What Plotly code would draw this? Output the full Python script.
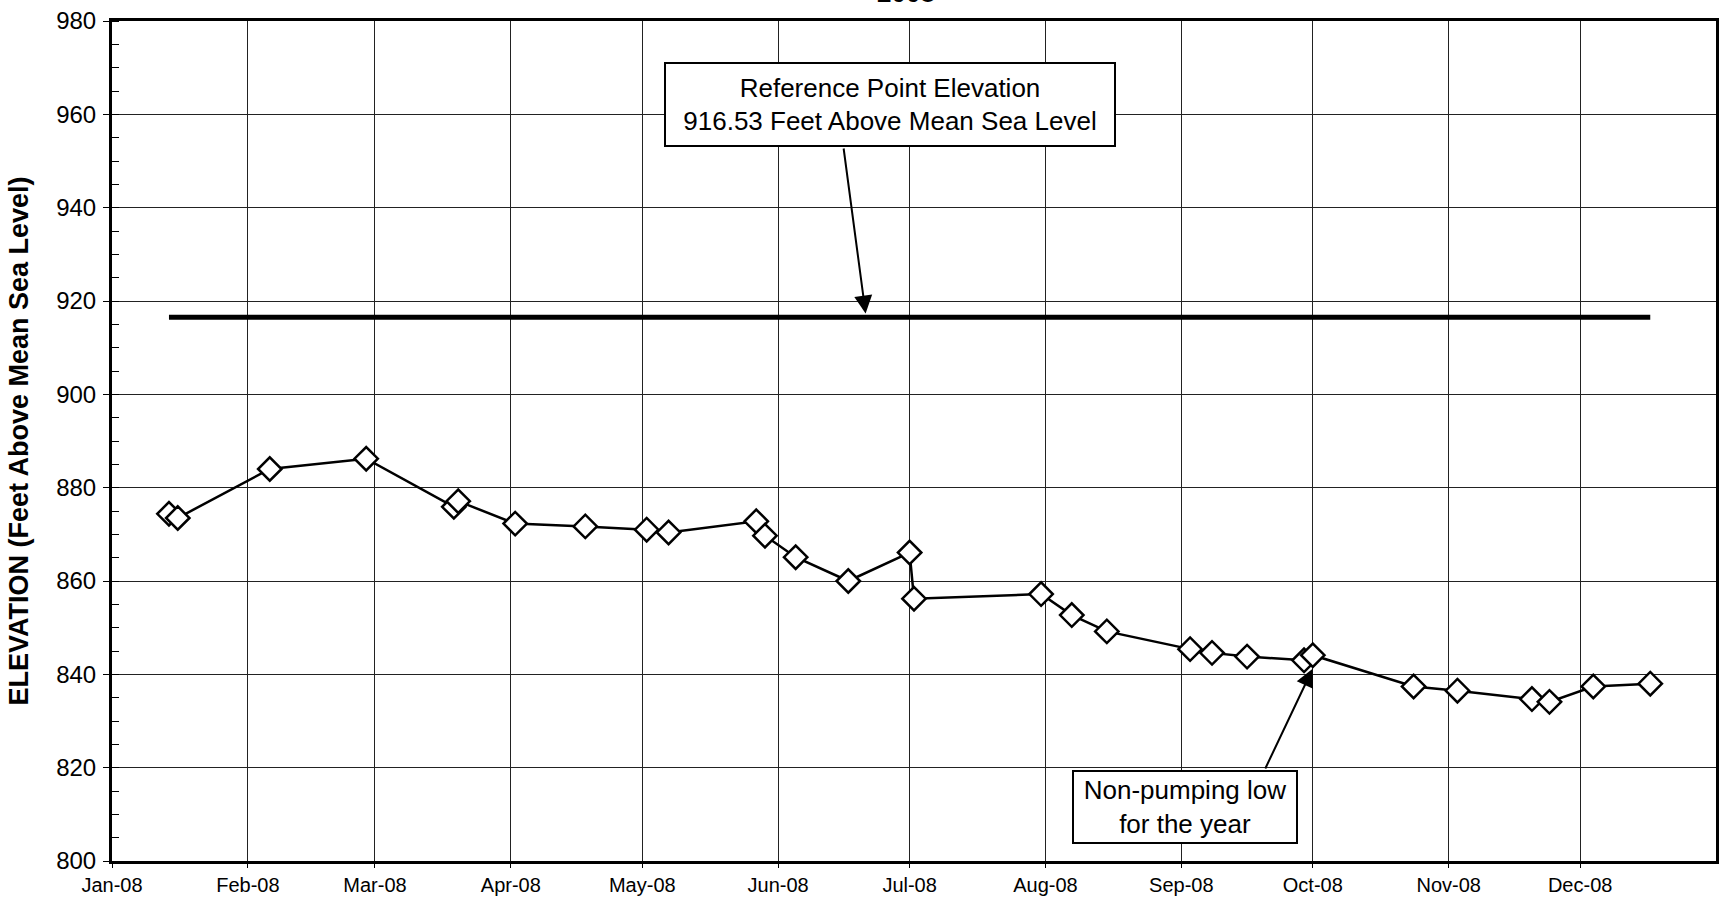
import plotly.graph_objects as go
import pandas as pd

# ---- data ----
dates = ['2008-01-14', '2008-01-16', '2008-02-06', '2008-02-28', '2008-03-19', '2008-03-20',
         '2008-04-02', '2008-04-18', '2008-05-02', '2008-05-07', '2008-05-27', '2008-05-29',
         '2008-06-05', '2008-06-17', '2008-07-01', '2008-07-02', '2008-07-31', '2008-08-07',
         '2008-08-15', '2008-09-03', '2008-09-08', '2008-09-16', '2008-09-29', '2008-10-01',
         '2008-10-24', '2008-11-03', '2008-11-20', '2008-11-24', '2008-12-04', '2008-12-17']
elevation = [874.4, 873.5, 884.0, 886.2, 875.9, 877.1,
             872.3, 871.7, 871.0, 870.4, 872.8, 869.7,
             865.1, 860.0, 866.1, 856.2, 857.2, 852.7,
             849.2, 845.4, 844.6, 843.8, 843.0, 844.1,
             837.4, 836.5, 834.7, 834.1, 837.4, 838.0]
ref_elevation = 916.53
ref_dates = [dates[0], dates[-1]]
ref_values = [ref_elevation, ref_elevation]

tick_dates = ['2008-01-01', '2008-02-01', '2008-03-01', '2008-04-01', '2008-05-01', '2008-06-01',
              '2008-07-01', '2008-08-01', '2008-09-01', '2008-10-01', '2008-11-01', '2008-12-01']
tick_labels = ['Jan-08', 'Feb-08', 'Mar-08', 'Apr-08', 'May-08', 'Jun-08',
               'Jul-08', 'Aug-08', 'Sep-08', 'Oct-08', 'Nov-08', 'Dec-08']

title_text = '2008'
y_title = 'ELEVATION (Feet Above Mean Sea Level)'
ref_label = 'Reference Point Elevation<br>916.53 Feet Above Mean Sea Level'
low_label = 'Non-pumping low<br>for the year'

FONT = 'Liberation Sans, Arial, sans-serif'
T0 = pd.Timestamp('2008-01-01')


def day(d):
    return (T0 + pd.Timedelta(days=d)).strftime('%Y-%m-%d %H:%M:%S')


fig = go.Figure()
fig.add_trace(go.Scatter(x=ref_dates, y=ref_values, mode='lines',
                         line=dict(color='black', width=5), showlegend=False, hoverinfo='skip'))
fig.add_trace(go.Scatter(x=dates, y=elevation, mode='lines+markers',
                         line=dict(color='black', width=2.5),
                         marker=dict(symbol='diamond', size=18, color='white',
                                     line=dict(color='black', width=2.5)),
                         showlegend=False))

annotations = [
    # title, partially off the top of the page (as in the reference)
    dict(text='<b>%s</b>' % title_text, xref='paper', yref='paper', x=0.495, y=1.0333,
         xanchor='center', yanchor='middle', showarrow=False,
         font=dict(family=FONT, size=26, color='black')),
    # reference box
    dict(text=ref_label, xref='x', yref='y', x=day(177.6), y=962.07,
         xanchor='center', yanchor='middle', showarrow=False,
         font=dict(family=FONT, size=26, color='black'),
         bgcolor='white', bordercolor='black', borderwidth=2, borderpad=0,
         width=448, height=81),
    # reference arrow
    dict(text='', xref='x', yref='y', x=day(171.96), y=917.3,
         axref='x', ayref='y', ax=day(166.9), ay=953.0,
         showarrow=True, arrowhead=2, arrowsize=1.8, arrowwidth=2, arrowcolor='black', standoff=0),
    # non-pumping box
    dict(text=low_label, xref='x', yref='y', x=day(244.8), y=811.54,
         xanchor='center', yanchor='middle', showarrow=False,
         font=dict(family=FONT, size=26, color='black'),
         bgcolor='white', bordercolor='black', borderwidth=2, borderpad=0,
         width=222, height=70),
    # non-pumping arrow
    dict(text='', xref='x', yref='y', x=day(273.96), y=841.2,
         axref='x', ayref='y', ax=day(263.0), ay=819.5,
         showarrow=True, arrowhead=2, arrowsize=1.8, arrowwidth=2, arrowcolor='black', standoff=0),
]

fig.update_layout(
    width=1720, height=898,
    margin=dict(l=112, r=1, t=21, b=37),
    paper_bgcolor='white', plot_bgcolor='white',
    font=dict(family=FONT, color='black'),
    annotations=annotations,
    xaxis=dict(
        type='date', range=['2008-01-01', '2009-01-01'],
        tickvals=tick_dates, ticktext=tick_labels,
        tickfont=dict(family=FONT, size=20, color='black'),
        showgrid=True, gridcolor='#222', gridwidth=1,
        showline=True, linecolor='black', linewidth=3, mirror=True,
        ticks='outside', ticklen=4, tickcolor='black', zeroline=False,
    ),
    yaxis=dict(
        range=[800, 980], dtick=20, tick0=800,
        tickfont=dict(family=FONT, size=24, color='black'),
        showgrid=True, gridcolor='#222', gridwidth=1,
        showline=True, linecolor='black', linewidth=3, mirror=True,
        ticks='outside', ticklen=6, tickcolor='black', zeroline=False,
        ticklabelstandoff=2,
        minor=dict(dtick=5, tick0=800, ticks='inside', ticklen=7, tickcolor='black', showgrid=False),
        title=dict(text='<b>%s</b>' % y_title, font=dict(family=FONT, size=27, color='black'),
                   standoff=20),
    ),
)

fig.write_html('out.html', config={'displayModeBar': False},
               post_script="document.body.style.margin='0';document.body.style.overflow='hidden';")
